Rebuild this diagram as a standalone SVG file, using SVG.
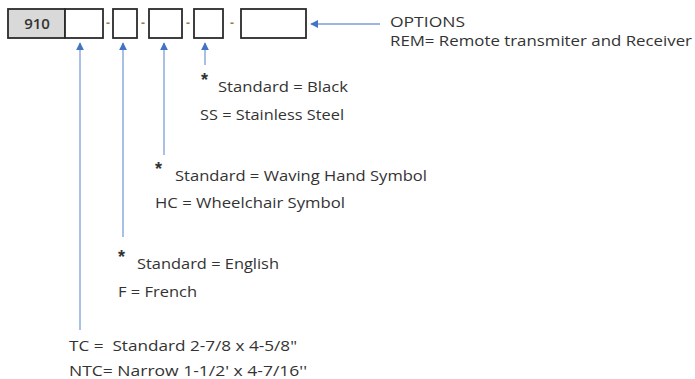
<svg xmlns="http://www.w3.org/2000/svg" width="695" height="379" viewBox="0 0 695 379">
<style>
.box{fill:#fff;stroke:#2b2b2b;stroke-width:1.8}
.gray{fill:#d9d9d9}
.t{font-family:"Open Sans","Liberation Sans",sans-serif;font-size:14px;fill:#333;white-space:pre}
.ast{font-family:"Liberation Sans",sans-serif;font-size:18px;font-weight:bold;fill:#333}
.dash{font-family:"Liberation Sans",sans-serif;font-size:12px;font-weight:bold;fill:#9a7a55;text-anchor:middle}
.c{stroke:#7b9ddb;stroke-width:1.3;fill:none}
</style>
<defs>
<marker id="ah" viewBox="0 0 10 10" refX="9" refY="5" markerWidth="8" markerHeight="8" markerUnits="userSpaceOnUse" orient="auto">
<path d="M0,0 L10,5 L0,10 z" fill="#4472c4"/>
</marker>
</defs>
<g id="part-number">
<g id="box-910"><rect class="box gray" x="8" y="9" width="57" height="29"/><text class="t" x="37" y="29" text-anchor="middle" style="font-size:15px;font-weight:600">910</text></g>
<g id="box-1"><rect class="box" x="65" y="9" width="38" height="29"/></g>
<text class="dash" x="108" y="27">-</text>
<g id="box-2"><rect class="box" x="113" y="9" width="24" height="29"/></g>
<text class="dash" x="143" y="27">-</text>
<g id="box-3"><rect class="box" x="149" y="9" width="33" height="29"/></g>
<text class="dash" x="188" y="27">-</text>
<g id="box-4"><rect class="box" x="194" y="9" width="29" height="29"/></g>
<text class="dash" x="232" y="27">-</text>
<g id="box-5"><rect class="box" x="241" y="9" width="65" height="29"/></g>
</g>
<g id="connectors">
<line class="c" x1="380" y1="24" x2="311" y2="24" marker-end="url(#ah)"/>
<line class="c" x1="80" y1="330" x2="80" y2="43" marker-end="url(#ah)"/>
<line class="c" x1="123" y1="237" x2="123" y2="43" marker-end="url(#ah)"/>
<line class="c" x1="164" y1="155" x2="164" y2="43" marker-end="url(#ah)"/>
<line class="c" x1="205" y1="65" x2="205" y2="43" marker-end="url(#ah)"/>
</g>
<g id="options">
<text class="t" x="390" y="27" textLength="75" lengthAdjust="spacingAndGlyphs">OPTIONS</text>
<text class="t" x="390" y="46" textLength="302" lengthAdjust="spacingAndGlyphs">REM= Remote transmiter and Receiver</text>
</g>
<g id="color">
<text class="ast" x="201" y="86">*</text>
<text class="t" x="218" y="92" textLength="130" lengthAdjust="spacingAndGlyphs">Standard = Black</text>
<text class="t" x="200" y="120" textLength="144" lengthAdjust="spacingAndGlyphs">SS = Stainless Steel</text>
</g>
<g id="symbol">
<text class="ast" x="155" y="175">*</text>
<text class="t" x="175" y="181" textLength="252" lengthAdjust="spacingAndGlyphs">Standard = Waving Hand Symbol</text>
<text class="t" x="155" y="208" textLength="190" lengthAdjust="spacingAndGlyphs">HC = Wheelchair Symbol</text>
</g>
<g id="language">
<text class="ast" x="118" y="263">*</text>
<text class="t" x="137" y="269" textLength="142" lengthAdjust="spacingAndGlyphs">Standard = English</text>
<text class="t" x="118" y="297" textLength="79" lengthAdjust="spacingAndGlyphs">F = French</text>
</g>
<g id="size">
<text class="t" x="69" y="351" textLength="228" lengthAdjust="spacingAndGlyphs">TC =  Standard 2-7/8 x 4-5/8"</text>
<text class="t" x="69" y="376" textLength="238" lengthAdjust="spacingAndGlyphs">NTC= Narrow 1-1/2' x 4-7/16''</text>
</g>
</svg>
